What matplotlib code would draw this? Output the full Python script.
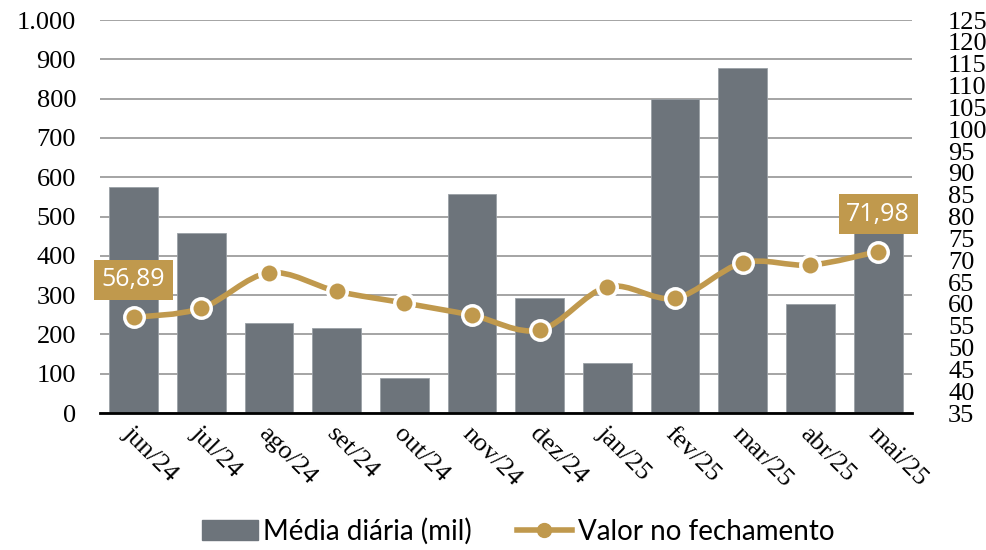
import numpy as np
import matplotlib.pyplot as plt
from matplotlib.path import Path
from matplotlib.patches import PathPatch
from matplotlib.lines import Line2D
from matplotlib.patches import Patch
import matplotlib.transforms as mtransforms

## Data ##
months = ["jun/24", "jul/24", "ago/24", "set/24", "out/24", "nov/24",
          "dez/24", "jan/25", "fev/25", "mar/25", "abr/25", "mai/25"]
media_diaria = [575, 457, 229, 216, 89, 557, 293, 127, 799, 878, 277, 462]
valor_fechamento = [56.89, 59.0, 67.1, 62.9, 60.2, 57.4, 54.0, 63.9, 61.3, 69.4, 68.9, 71.98]
left_ticks = list(range(0, 1001, 100))
right_ticks = list(range(35, 126, 5))

## Style ##
BAR = "#6d747b"
GOLD = "#c0994d"
serif = ["Liberation Serif", "DejaVu Serif"]
sans = ["Lato", "DejaVu Sans"]

fig = plt.figure(figsize=(9.87, 5.5), dpi=100)
ax = fig.add_axes([0.101, 0.249, 0.823, 0.7146])
x = np.arange(len(months))

ax.bar(x, media_diaria, width=0.72, color=BAR, edgecolor="#9aa0a6", linewidth=0.6, zorder=2)
ax.set_xlim(-0.5, len(months) - 0.5)
ax.set_ylim(0, 1000)
ax.set_yticks(left_ticks)
ax.set_yticklabels([f"{v:,}".replace(",", ".") for v in left_ticks], fontsize=19, family=serif)
ax.tick_params(axis="y", length=0, pad=17)
ax.grid(axis="y", color="#8c8c8c", linewidth=1.1, zorder=0)
ax.set_axisbelow(True)
for s in ["top", "right", "left"]:
    ax.spines[s].set_visible(False)
ax.spines["bottom"].set_color("black")
ax.spines["bottom"].set_linewidth(2)
ax.spines["bottom"].set_zorder(3)

ax.set_xticks(x)
ax.set_xticklabels(months, rotation=-45, ha="left", va="top", rotation_mode="anchor",
                   fontsize=19, family=serif)
ax.tick_params(axis="x", length=0, pad=7)
offset = mtransforms.ScaledTranslation(1 / 100, 0, fig.dpi_scale_trans)
for lab in ax.get_xticklabels():
    lab.set_transform(lab.get_transform() + offset)

ax2 = ax.twinx()
ax2.set_ylim(35, 125)
ax2.set_yticks(right_ticks)
ax2.set_yticklabels([str(v) for v in right_ticks], fontsize=19, family=serif)
ax2.tick_params(axis="y", length=0, pad=26)
for s in ax2.spines.values():
    s.set_visible(False)

# smoothed line (Catmull-Rom as cubic Bezier)
pts = np.column_stack([x, valor_fechamento]).astype(float)
verts = [pts[0]]
codes = [Path.MOVETO]
for i in range(len(pts) - 1):
    p0 = pts[i - 1] if i > 0 else pts[i]
    p1, p2 = pts[i], pts[i + 1]
    p3 = pts[i + 2] if i + 2 < len(pts) else pts[i + 1]
    c1 = p1 + (p2 - p0) / 6
    c2 = p2 - (p3 - p1) / 6
    verts += [c1, c2, p2]
    codes += [Path.CURVE4] * 3
ax2.add_patch(PathPatch(Path(verts, codes), facecolor="none", edgecolor=GOLD,
                        linewidth=4, zorder=3, capstyle="round"))
ax2.plot(x, valor_fechamento, linestyle="none", marker="o", markersize=14,
         markerfacecolor=GOLD, markeredgecolor="white", markeredgewidth=2.5, zorder=4)

# value labels
for i in [0, len(months) - 1]:
    ax2.annotate(f"{valor_fechamento[i]:.2f}".replace(".", ","), (x[i], valor_fechamento[i]),
                 xytext=(0, 27), textcoords="offset points", ha="center", va="center",
                 fontsize=18, family=["Open Sans", "DejaVu Sans"], color="white", zorder=5,
                 bbox=dict(boxstyle="square,pad=0.3", facecolor=GOLD, edgecolor="none"))

# legend
handles = [Patch(facecolor=BAR, edgecolor=BAR),
           Line2D([0], [0], color=GOLD, linewidth=4, marker="o", markersize=10,
                  markerfacecolor=GOLD, markeredgecolor=GOLD)]
fig.legend(handles, ["Média diária (mil)", "Valor no fechamento"], loc="lower center",
           bbox_to_anchor=(0.525, -0.036), ncol=2, frameon=False, handlelength=2.0,
           columnspacing=1.6, handletextpad=0.2, prop={"family": sans, "size": 20})

fig.savefig("out.png", dpi=100)
